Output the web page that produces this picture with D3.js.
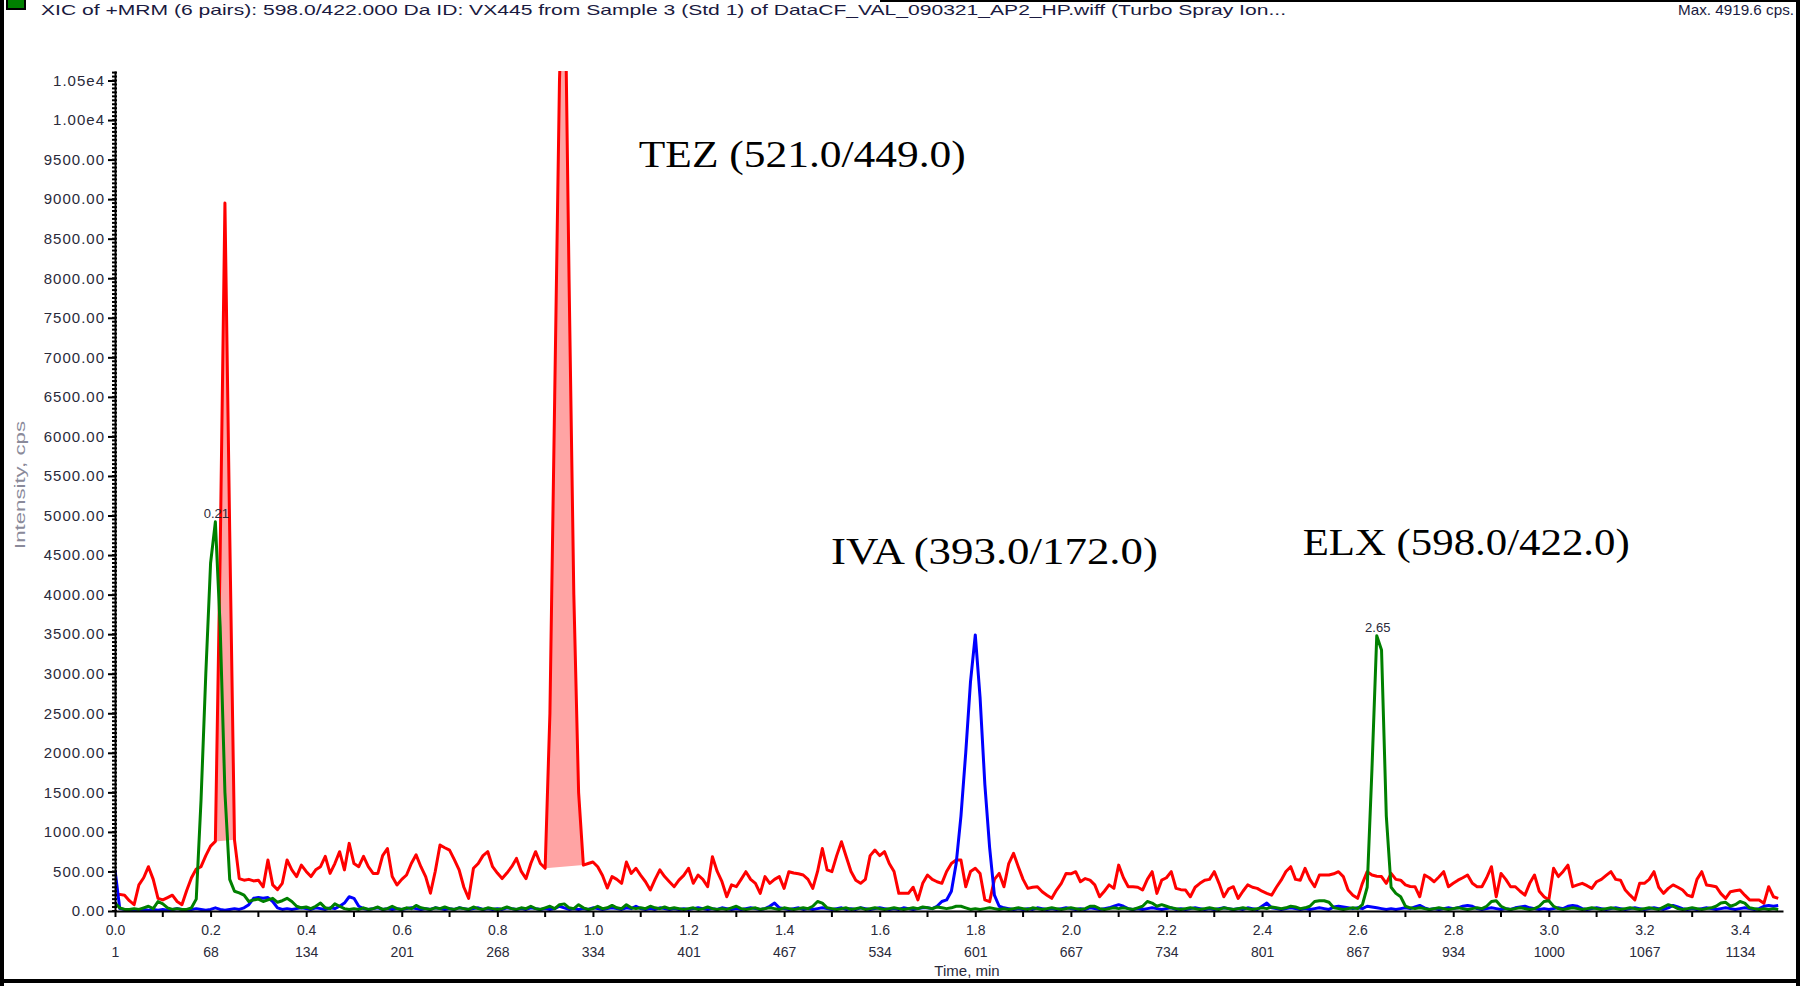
<!DOCTYPE html>
<html>
<head>
<meta charset="utf-8">
<script src="https://cdn.jsdelivr.net/npm/d3@7/dist/d3.min.js"></script>
<style>
  body { margin: 0; background: #fff; }
  svg { display: block; font-family: "Liberation Sans", Arial, sans-serif; }
</style>
</head>
<body>
<div id="chart"></div>
<script>
// XIC of +MRM, TEZ / IVA / ELX, intensity (cps) every 0.01 min from 0.00 to 3.48 min

var timeStep = 0.01;

// TEZ 521.0/449.0 (red)
var tezValues = [
  200, 210, 200, 130, 80, 330, 420, 560, 400, 160,
  140, 170, 200, 120, 80, 260, 420, 530, 560, 700,
  820, 880, 4500, 8950, 4800, 900, 410, 390, 400, 380,
  390, 305, 645, 330, 270, 350, 645, 520, 435, 580,
  500, 435, 520, 560, 690, 475, 600, 750, 520, 855,
  600, 560, 690, 560, 475, 475, 700, 790, 435, 330,
  400, 455, 600, 710, 560, 435, 225, 500, 835, 800,
  770, 650, 520, 300, 160, 540, 600, 700, 750, 560,
  480, 410, 480, 560, 665, 500, 410, 600, 750, 600,
  540, 2500, 6500, 10500, 12500, 8000, 4000, 1500, 580, 600,
  620, 560, 450, 290, 435, 400, 350, 620, 475, 540,
  450, 370, 265, 400, 520, 435, 370, 307, 390, 450,
  540, 350, 455, 400, 307, 686, 500, 370, 180, 330,
  307, 400, 497, 400, 350, 223, 435, 350, 400, 435,
  286, 497, 480, 470, 455, 400, 286, 500, 790, 520,
  497, 700, 875, 686, 500, 390, 350, 400, 700, 770,
  700, 750, 600, 500, 223, 223, 223, 300, 140, 350,
  455, 400, 370, 350, 500, 600, 645, 645, 307, 500,
  540, 475, 140, 118, 400, 475, 307, 600, 730, 560,
  400, 286, 300, 307, 244, 200, 160, 265, 350, 475,
  470, 497, 370, 410, 390, 330, 180, 250, 330, 286,
  580, 420, 307, 307, 300, 265, 400, 497, 223, 390,
  420, 497, 286, 270, 265, 180, 300, 350, 390, 400,
  497, 350, 180, 280, 307, 160, 250, 330, 300, 286,
  250, 223, 200, 300, 390, 500, 560, 400, 390, 540,
  400, 307, 455, 455, 455, 470, 497, 435, 265, 200,
  160, 350, 497, 455, 440, 435, 350, 475, 400, 390,
  330, 310, 307, 180, 455, 420, 370, 430, 497, 307,
  350, 390, 420, 455, 350, 307, 307, 420, 560, 180,
  475, 400, 307, 307, 250, 200, 350, 455, 250, 180,
  140, 540, 435, 500, 580, 307, 330, 350, 320, 286,
  370, 400, 450, 497, 400, 390, 265, 200, 140, 350,
  350, 400, 497, 300, 223, 286, 330, 300, 265, 200,
  180, 400, 497, 330, 320, 307, 220, 160, 244, 255,
  265, 200, 140, 140, 140, 97, 307, 180, 160
];

// IVA 393.0/172.0 (blue)
var ivaValues = [
  520, 30, 20, 10, 20, 10, 20, 10, 20, 10,
  20, 10, 20, 30, 20, 10, 20, 30, 20, 10,
  20, 40, 20, 10, 20, 30, 20, 40, 80, 160,
  170, 160, 170, 120, 40, 20, 30, 20, 30, 40,
  30, 20, 40, 30, 20, 40, 30, 60, 100, 180,
  160, 60, 30, 20, 30, 40, 20, 30, 20, 30,
  20, 30, 40, 30, 20, 30, 20, 40, 30, 20,
  30, 20, 40, 30, 20, 30, 40, 20, 30, 20,
  30, 20, 40, 30, 20, 30, 20, 40, 30, 20,
  30, 20, 30, 60, 40, 20, 30, 20, 30, 20,
  40, 30, 20, 30, 40, 30, 20, 40, 30, 60,
  30, 20, 30, 20, 40, 30, 20, 30, 20, 30,
  20, 30, 40, 30, 20, 30, 20, 40, 30, 20,
  30, 20, 30, 40, 30, 20, 30, 60, 100, 40,
  30, 20, 30, 40, 20, 30, 20, 30, 40, 30,
  20, 30, 40, 20, 30, 20, 40, 30, 20, 30,
  40, 30, 20, 30, 20, 40, 30, 20, 30, 40,
  40, 30, 60, 120, 140, 250, 600, 1200, 2000, 2900,
  3490, 2700, 1600, 800, 200, 60, 40, 30, 20, 30,
  20, 30, 20, 40, 30, 20, 30, 20, 30, 40,
  30, 20, 30, 20, 40, 30, 20, 30, 40, 60,
  80, 60, 30, 20, 30, 20, 30, 40, 30, 20,
  30, 40, 20, 30, 20, 30, 40, 30, 20, 30,
  20, 30, 40, 30, 20, 30, 20, 40, 30, 20,
  60, 100, 40, 30, 20, 30, 40, 30, 20, 30,
  20, 30, 40, 30, 20, 50, 60, 50, 40, 30,
  40, 30, 60, 50, 40, 30, 20, 30, 20, 30,
  40, 30, 50, 70, 40, 20, 30, 20, 30, 40,
  30, 40, 60, 70, 60, 30, 20, 30, 40, 30,
  20, 30, 20, 40, 50, 60, 40, 30, 20, 30,
  20, 30, 40, 30, 60, 70, 60, 30, 20, 30,
  40, 30, 20, 30, 40, 30, 20, 30, 40, 30,
  20, 30, 40, 30, 20, 40, 70, 50, 30, 20,
  30, 20, 30, 40, 30, 20, 30, 40, 30, 20,
  30, 40, 30, 20, 30, 60, 70, 60, 70
];

// ELX 598.0/422.0 (green)
var elxValues = [
  100, 40, 20, 20, 30, 20, 40, 60, 30, 120,
  90, 40, 20, 30, 20, 20, 40, 150, 1400, 3000,
  4400, 4920, 3600, 1500, 400, 250, 230, 200, 120, 140,
  150, 120, 140, 160, 110, 130, 160, 120, 60, 40,
  50, 30, 60, 100, 40, 30, 90, 60, 30, 20,
  30, 20, 40, 20, 30, 50, 20, 30, 60, 30,
  20, 40, 30, 70, 40, 30, 20, 40, 30, 50,
  30, 20, 40, 30, 20, 50, 30, 20, 40, 30,
  20, 30, 50, 30, 20, 40, 30, 60, 30, 20,
  40, 60, 30, 80, 90, 40, 30, 80, 40, 20,
  30, 60, 30, 40, 70, 40, 30, 80, 40, 30,
  40, 30, 60, 40, 30, 50, 30, 40, 30, 20,
  30, 40, 20, 30, 50, 30, 20, 30, 20, 40,
  60, 30, 20, 30, 40, 20, 30, 40, 30, 20,
  40, 30, 20, 30, 40, 30, 60, 120, 100, 40,
  30, 20, 30, 40, 20, 30, 40, 20, 30, 40,
  30, 20, 30, 40, 30, 20, 30, 40, 30, 50,
  40, 30, 50, 40, 30, 40, 60, 60, 40, 20,
  30, 20, 30, 40, 30, 20, 30, 20, 30, 40,
  30, 20, 40, 30, 20, 30, 40, 30, 20, 30,
  40, 30, 20, 30, 60, 60, 30, 20, 30, 40,
  30, 40, 30, 20, 40, 60, 120, 100, 60, 80,
  60, 40, 30, 20, 30, 40, 30, 20, 30, 40,
  30, 20, 40, 30, 20, 30, 40, 30, 20, 30,
  40, 30, 50, 40, 30, 40, 60, 50, 30, 40,
  60, 120, 130, 130, 110, 40, 30, 20, 30, 40,
  30, 80, 300, 1800, 3480, 3300, 1200, 300, 223, 180,
  60, 40, 30, 40, 30, 20, 30, 40, 30, 20,
  30, 40, 30, 20, 30, 40, 30, 60, 120, 130,
  60, 30, 20, 30, 40, 30, 20, 30, 60, 120,
  130, 60, 30, 20, 30, 40, 30, 20, 30, 40,
  30, 20, 30, 40, 30, 20, 30, 40, 30, 20,
  30, 40, 30, 20, 50, 80, 60, 30, 20, 30,
  40, 30, 20, 30, 40, 60, 100, 110, 60, 80,
  120, 100, 40, 30, 20, 30, 20, 30, 20
];

var xTickValues = [0, 0.2, 0.4, 0.6, 0.8, 1.0, 1.2, 1.4, 1.6, 1.8, 2.0, 2.2, 2.4, 2.6, 2.8, 3.0, 3.2, 3.4];
var xTickLabels = ["0.0", "0.2", "0.4", "0.6", "0.8", "1.0", "1.2", "1.4", "1.6", "1.8", "2.0", "2.2", "2.4", "2.6", "2.8", "3.0", "3.2", "3.4"];
var scanLabels = ["1", "68", "134", "201", "268", "334", "401", "467", "534", "601", "667", "734", "801", "867", "934", "1000", "1067", "1134"];

var yTickValues = [0, 500, 1000, 1500, 2000, 2500, 3000, 3500, 4000, 4500, 5000, 5500, 6000, 6500, 7000, 7500, 8000, 8500, 9000, 9500, 10000, 10500];
var yTickLabels = ["0.00", "500.00", "1000.00", "1500.00", "2000.00", "2500.00", "3000.00", "3500.00", "4000.00", "4500.00", "5000.00", "5500.00", "6000.00", "6500.00", "7000.00", "7500.00", "8000.00", "8500.00", "9000.00", "9500.00", "1.00e4", "1.05e4"];

var seriesNames = ["TEZ", "IVA", "ELX"];
var seriesColors = ["#ff0000", "#0000ff", "#008000"];
var annotations = [
  {text: "TEZ (521.0/449.0)", time: 1.096, cps: 9400},
  {text: "IVA (393.0/172.0)", time: 1.498, cps: 4390},
  {text: "ELX (598.0/422.0)", time: 2.485, cps: 4500}
];
var peakLabels = [
  {text: "0.21", series: "ELX", from: 0.15, to: 0.30},
  {text: "2.65", series: "ELX", from: 2.55, to: 2.75}
];

var width = 1800;
var height = 986;

var svg = d3.select('#chart')
  .append('svg')
  .attr('width', width)
  .attr('height', height);

var x = d3.scaleLinear().domain([0, 3.49]).range([115, 1783]);
var y = d3.scaleLinear().domain([0, 10620]).range([911, 71]);

var data = [tezValues, ivaValues, elxValues].map(function(vals, k) {
  return {
    id: seriesNames[k],
    color: seriesColors[k],
    values: vals.map(function(v, i) { return {time: i * timeStep, cps: v}; })
  };
});
var byId = {};
data.forEach(function(d) { byId[d.id] = d; });

// frame
svg.append('rect').attr('x', 0).attr('y', 0).attr('width', 4).attr('height', height).attr('fill', '#000');
svg.append('rect').attr('x', 1796).attr('y', 0).attr('width', 4).attr('height', height).attr('fill', '#000');
svg.append('rect').attr('x', 0).attr('y', 979).attr('width', width).attr('height', 4).attr('fill', '#000');
svg.append('rect').attr('x', 880).attr('y', 0).attr('width', 920).attr('height', 2).attr('fill', '#000');

// header
svg.append('rect')
  .attr('x', 7).attr('y', -9).attr('width', 18).attr('height', 18)
  .attr('fill', '#008000').attr('stroke', '#000').attr('stroke-width', 2);
svg.append('text')
  .attr('x', 41).attr('y', 15)
  .attr('textLength', 1245).attr('lengthAdjust', 'spacingAndGlyphs')
  .style('font-size', '15px').style('fill', '#1a1a40')
  .text('XIC of +MRM (6 pairs): 598.0/422.000 Da ID: VX445 from Sample 3 (Std 1) of DataCF_VAL_090321_AP2_HP.wiff (Turbo Spray Ion...');
svg.append('text')
  .attr('x', 1678).attr('y', 15)
  .attr('textLength', 116).attr('lengthAdjust', 'spacingAndGlyphs')
  .style('font-size', '15px').style('fill', '#1a1a40')
  .text('Max. 4919.6 cps.');

// clip for traces
svg.append('clipPath').attr('id', 'plot-clip')
  .append('rect')
  .attr('x', x.range()[0]).attr('y', y.range()[1])
  .attr('width', x.range()[1] - x.range()[0])
  .attr('height', y.range()[0] - y.range()[1] + 4);

var line = d3.line()
  .x(function(d) { return x(d.time); })
  .y(function(d) { return y(d.cps); });

var traces = svg.append('g').attr('clip-path', 'url(#plot-clip)');

// pink interior of the two narrow TEZ peaks
var peakFills = [
  {series: "TEZ", from: 0.21, to: 0.25, fill: "#ffa4a4"},
  {series: "TEZ", from: 0.90, to: 0.98, fill: "#ffa4a4"}
];
peakFills.forEach(function(p) {
  var pts = byId[p.series].values.filter(function(d) { return d.time >= p.from - 1e-6 && d.time <= p.to + 1e-6; });
  traces.append('path')
    .attr('d', line(pts) + 'Z')
    .attr('fill', p.fill)
    .attr('stroke', 'none');
});

traces.selectAll('.line')
  .data(data)
  .enter()
  .append('path')
  .attr('class', 'line')
  .attr('d', function(d) { return line(d.values); })
  .attr('fill', 'none')
  .attr('stroke', function(d) { return d.color; })
  .attr('stroke-width', 3)
  .attr('stroke-linejoin', 'round');

// y axis
var yAxis = d3.axisLeft(y)
  .tickValues(yTickValues)
  .tickFormat(function(d, i) { return yTickLabels[i]; })
  .tickSize(7)
  .tickSizeOuter(0)
  .tickPadding(3);

var gy = svg.append('g')
  .attr('class', 'axis axis-y')
  .attr('transform', 'translate(' + x.range()[0] + ',0)')
  .call(yAxis);
gy.select('.domain').attr('stroke', '#000').attr('stroke-width', 2);
gy.selectAll('.tick line').attr('stroke', '#000').attr('stroke-width', 2);
gy.selectAll('.tick text')
  .style('font-size', '15px')
  .style('letter-spacing', '1px')
  .style('fill', '#2a2a3a');

// minor y ticks every 50 cps
gy.selectAll('.minor')
  .data(d3.range(0, 10650, 50))
  .enter()
  .append('line')
  .attr('class', 'minor')
  .attr('x1', -3).attr('x2', 2)
  .attr('y1', function(d) { return y(d); })
  .attr('y2', function(d) { return y(d); })
  .attr('stroke', '#000')
  .attr('stroke-width', 2);

// x axis: time row + scan number row
var xAxis = d3.axisBottom(x)
  .tickValues(xTickValues)
  .tickFormat(function(d, i) { return xTickLabels[i]; })
  .tickSize(6)
  .tickSizeOuter(0);

var gx = svg.append('g')
  .attr('class', 'axis axis-x')
  .attr('transform', 'translate(0,' + y.range()[0] + ')')
  .call(xAxis);
gx.select('.domain').attr('stroke', '#000').attr('stroke-width', 2);
gx.selectAll('.tick line').attr('stroke', '#000').attr('stroke-width', 2);
gx.selectAll('.tick text')
  .attr('y', 24)
  .attr('dy', null)
  .style('font-size', '14px')
  .style('fill', '#2a2a3a');
gx.selectAll('.tick')
  .append('text')
  .attr('class', 'scan')
  .attr('y', 46)
  .attr('fill', '#2a2a3a')
  .style('font-size', '14px')
  .text(function(d, i) { return scanLabels[i]; });

// minor x ticks at the odd tenths
gx.selectAll('.minor')
  .data(d3.range(0.1, 3.5, 0.2))
  .enter()
  .append('line')
  .attr('class', 'minor')
  .attr('x1', function(d) { return x(d); })
  .attr('x2', function(d) { return x(d); })
  .attr('y1', 0).attr('y2', 6)
  .attr('stroke', '#000')
  .attr('stroke-width', 2);

// axis titles
svg.append('text')
  .attr('x', 967).attr('y', 976)
  .style('text-anchor', 'middle')
  .style('font-size', '15px')
  .style('fill', '#2a2a3a')
  .text('Time, min');

svg.append('text')
  .attr('transform', 'translate(25,485) rotate(-90)')
  .attr('textLength', 128)
  .attr('lengthAdjust', 'spacingAndGlyphs')
  .style('text-anchor', 'middle')
  .style('font-size', '15px')
  .style('fill', '#8a8a9a')
  .text('Intensity, cps');

// apex labels
peakLabels.forEach(function(p) {
  var pts = byId[p.series].values.filter(function(d) { return d.time >= p.from && d.time <= p.to; });
  var top = pts[d3.maxIndex(pts, function(d) { return d.cps; })];
  svg.append('text')
    .attr('x', x(top.time) + 1)
    .attr('y', y(top.cps) - 4)
    .style('text-anchor', 'middle')
    .style('font-size', '13px')
    .style('fill', '#2a2a3a')
    .text(p.text);
});

// compound annotations
svg.selectAll('.annot')
  .data(annotations)
  .enter()
  .append('text')
  .attr('class', 'annot')
  .attr('x', function(d) { return x(d.time); })
  .attr('y', function(d) { return y(d.cps); })
  .attr('textLength', 327)
  .attr('lengthAdjust', 'spacingAndGlyphs')
  .style('font-family', '"Liberation Serif", "Times New Roman", serif')
  .style('font-size', '38px')
  .style('fill', '#000')
  .text(function(d) { return d.text; });
</script>
</body>
</html>
